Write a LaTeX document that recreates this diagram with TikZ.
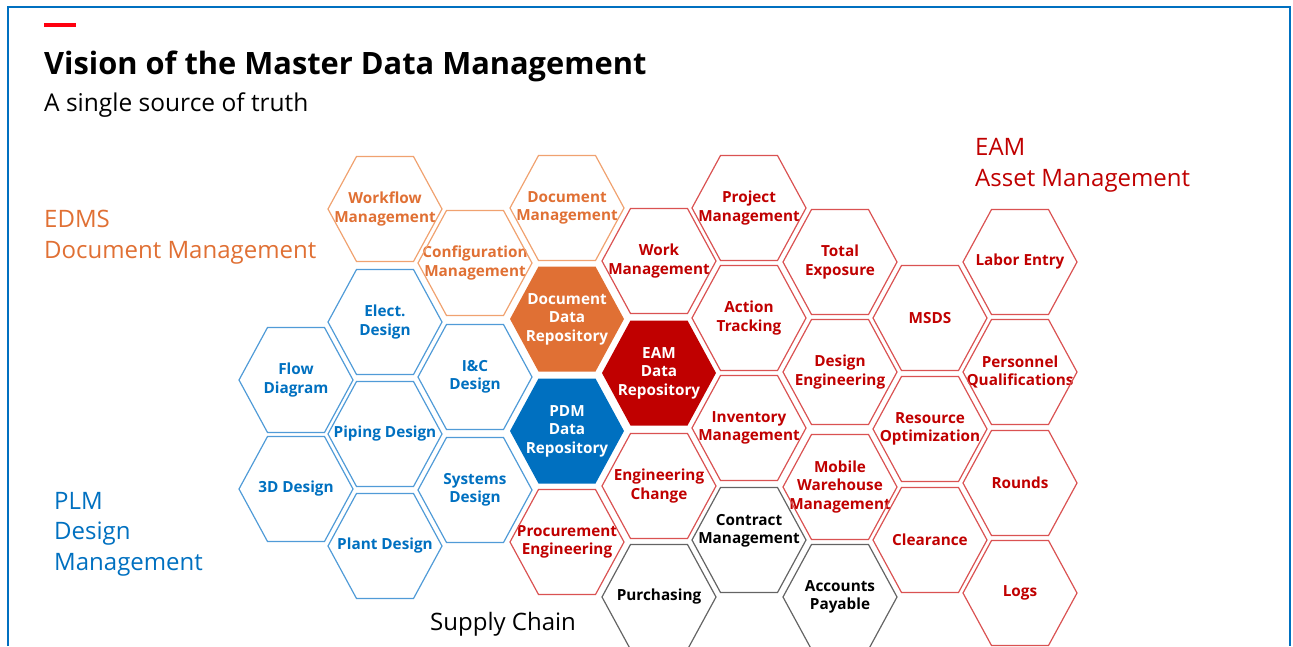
\documentclass[tikz,border=0pt]{standalone}
\usepackage{fontspec}
\setmainfont{Open Sans}
\usepackage{tikz}
\usetikzlibrary{backgrounds}
\definecolor{frameblue}{RGB}{0, 112, 192}
\definecolor{abbred}{RGB}{255, 0, 15}
\definecolor{edmsorange}{RGB}{224, 112, 52}
\definecolor{edmsline}{RGB}{240, 162, 112}
\definecolor{plmblue}{RGB}{0, 112, 192}
\definecolor{plmline}{RGB}{80, 155, 215}
\definecolor{eamred}{RGB}{192, 0, 0}
\definecolor{eamline}{RGB}{218, 82, 82}
\definecolor{scgray}{RGB}{100, 100, 100}

\begin{document}
\begin{tikzpicture}[x=1pt,y=-1pt,
        hexlabel/.style={align=center,inner sep=0pt,font=\fontsize{15.3}{18.5}\selectfont\bfseries},
        hexpath/.style={insert path={++(-57,0) -- ++(28.5,-52.5) -- ++(57,0) -- ++(28.5,52.5) -- ++(-28.5,52.5) -- ++(-57,0) -- cycle}},
        hexline/.style={line width=1.2pt},
        grouplabel/.style={anchor=base west,align=left,inner sep=0pt,font=\fontsize{24}{30.5}\selectfont}]
        \useasboundingbox (0,0) rectangle (1293,646);

        % Frame and heading
        \draw[frameblue,line width=2pt] (8,646) -- (8,7) -- (1290,7) -- (1290,646);
        \fill[abbred] (44,23) rectangle (76,27);
        \node[anchor=base west,inner sep=0pt,font=\fontsize{30.8}{36}\selectfont\bfseries] (title) at (44,74) {Vision of the Master Data Management};
        \node[anchor=base west,inner sep=0pt,font=\fontsize{24.5}{28}\selectfont] (subtitle) at (44,111) {A single source of truth};

        % Group labels (base is the last line)
        \node[grouplabel,edmsorange] (edms) at (44,258) {EDMS\\Document Management};
        \node[grouplabel,plmblue] (plm) at (54,570) {PLM\\Design\\Management};
        \node[grouplabel,eamred] (eamlabel) at (975,186) {EAM\\Asset Management};
        \node[grouplabel] (supply) at (430,630) {Supply Chain};

        % EDMS cells
        \node[hexlabel,edmsorange] (wfm) at (385,209) {Workflow\\Management};
        \node[hexlabel,edmsorange] (config) at (475,263) {Configuration\\Management};
        \node[hexlabel,edmsorange] (docm) at (567,208) {Document\\Management};
        \node[hexlabel,white] (ddr) at (567,319) {Document\\Data\\Repository};

        % PLM cells
        \node[hexlabel,plmblue] (flow) at (296,380) {Flow\\Diagram};
        \node[hexlabel,plmblue] (threed) at (296,489) {3D Design};
        \node[hexlabel,plmblue] (elect) at (385,322) {Elect.\\Design};
        \node[hexlabel,plmblue] (piping) at (385,434) {Piping Design};
        \node[hexlabel,plmblue] (plant) at (385,546) {Plant Design};
        \node[hexlabel,plmblue] (ic) at (475,377) {I\&C\\Design};
        \node[hexlabel,plmblue] (systems) at (475,490) {Systems\\Design};
        \node[hexlabel,white] (pdm) at (567,431) {PDM\\Data\\Repository};

        % EAM cells
        \node[hexlabel,eamred] (proc) at (567,542) {Procurement\\Engineering};
        \node[hexlabel,eamred] (work) at (659,261) {Work\\Management};
        \node[hexlabel,white] (eam) at (659,373) {EAM\\Data\\Repository};
        \node[hexlabel,eamred] (engch) at (659,486) {Engineering\\Change};
        \node[hexlabel,eamred] (proj) at (749,208) {Project\\Management};
        \node[hexlabel,eamred] (action) at (749,318) {Action\\Tracking};
        \node[hexlabel,eamred] (inv) at (749,428) {Inventory\\Management};
        \node[hexlabel,eamred] (total) at (840,262) {Total\\Exposure};
        \node[hexlabel,eamred] (design) at (840,372) {Design\\Engineering};
        \node[hexlabel,eamred] (mobile) at (840,487) {Mobile\\Warehouse\\Management};
        \node[hexlabel,eamred] (msds) at (930,318) {MSDS};
        \node[hexlabel,eamred] (resopt) at (930,429) {Resource\\Optimization};
        \node[hexlabel,eamred] (clear) at (930,540) {Clearance};
        \node[hexlabel,eamred] (labor) at (1020,262) {Labor Entry};
        \node[hexlabel,eamred] (personnel) at (1020,372) {Personnel\\Qualifications};
        \node[hexlabel,eamred] (rounds) at (1020,483) {Rounds};
        \node[hexlabel,eamred] (logs) at (1020,593) {Logs};

        % Supply chain cells
        \node[hexlabel] (purch) at (659,597) {Purchasing};
        \node[hexlabel] (contract) at (749,531) {Contract\\Management};
        \node[hexlabel] (accounts) at (840,597) {Accounts\\Payable};

        % Outlines
        \foreach \n in {wfm,config,docm}
            \draw[hexline,edmsline] (\n.center) [hexpath];
        \foreach \n in {flow,threed,elect,piping,plant,ic,systems}
            \draw[hexline,plmline] (\n.center) [hexpath];
        \foreach \n in {proc,work,engch,proj,action,inv,total,design,mobile,msds,resopt,clear,labor,personnel,rounds,logs}
            \draw[hexline,eamline] (\n.center) [hexpath];
        \foreach \n/\dy in {purch/0,contract/9,accounts/0}
            \draw[hexline,scgray] (\n.center) ++(0,\dy) [hexpath];

        % Repositories
        \begin{scope}[on background layer]
            \fill[edmsorange] (ddr.center) [hexpath];
            \fill[plmblue] (pdm.center) [hexpath];
            \fill[eamred] (eam.center) [hexpath];
        \end{scope}
    \end{tikzpicture}
\end{document}
